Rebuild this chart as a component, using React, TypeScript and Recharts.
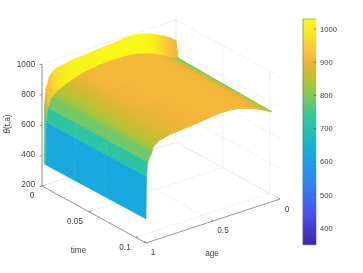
import { ScatterChart, Scatter, XAxis, YAxis, ReferenceDot } from 'recharts';

const WIDTH = 363;
const HEIGHT = 273;

const ages = [
  0, 0.02, 0.04, 0.06, 0.08, 0.1, 0.13, 0.16, 0.2, 0.25, 0.3, 0.35, 0.4, 0.45, 0.5, 0.55, 0.6, 0.65,
  0.7, 0.75, 0.8, 0.84, 0.87, 0.9, 0.92, 0.94, 0.96, 0.985, 0.995, 1,
];
const times = [0, 0.002, 0.03, 0.06, 0.1];

// theta(t, a), one list per time, same order as ages
const thetaT0 = [
  862, 878, 892, 902, 914, 924, 938, 950, 965, 980, 990, 993, 991, 986, 981, 978, 975, 972, 968, 965,
  961, 955, 949, 944, 937, 922, 902, 836, 740, 345,
];
const thetaT1 = [
  757, 762, 769, 777, 787, 799, 810, 826, 841, 856, 869, 878, 882, 884, 885, 883, 881, 875, 868, 856,
  843, 830, 818, 806, 797, 783, 764, 715, 620, 345,
];
const thetaT2 = [
  757, 764, 771, 779, 789, 801, 812, 827, 841, 855, 867, 874, 878, 879, 878, 875, 872, 867, 861, 853,
  844, 833, 823, 811, 803, 790, 763, 715, 620, 345,
];
const thetaT3 = [
  757, 766, 774, 783, 792, 803, 814, 828, 840, 855, 865, 871, 874, 873, 870, 866, 862, 858, 855, 850,
  845, 836, 829, 819, 810, 798, 762, 714, 620, 345,
];
const thetaT4 = [
  757, 768, 777, 786, 795, 805, 816, 828, 840, 854, 863, 868, 870, 868, 865, 861, 857, 854, 851, 848,
  845, 840, 834, 827, 816, 805, 760, 712, 620, 345,
];
const thetaByTime = [thetaT0, thetaT1, thetaT2, thetaT3, thetaT4];

const zTicks = [200, 400, 600, 800, 1000];
const timeTicks = [0, 0.05, 0.1];
const ageTicks = [0, 0.5, 1];
const colorbarTicks = [400, 500, 600, 700, 800, 900, 1000];

const parulaPos = [0, 0.1429, 0.2857, 0.4286, 0.5714, 0.7143, 0.77, 0.82, 0.8571, 0.93, 1];
const parulaHex = [
  '#3E26A8', '#4852F4', '#2D87F7', '#12B1D6', '#37C897', '#ABC739', '#D0BA30', '#F2B43A', '#FEC338', '#F5E326', '#F9FB14',
];
const colorMin = 350;
const colorMax = 1030;

// heights in the picture read lower than the colours say above 700,
// and the young side turns orange much sooner than the old side
const heightKeys = [345, 700, 757, 800, 860, 885, 905, 965, 1000];
const oldColorKeys = [345, 700, 780, 840, 908, 915, 930, 1015, 1030];
const youngHeightKeys = [345, 700, 757, 770, 790, 820, 885, 905, 965, 1000];
const youngColorKeys = [345, 700, 790, 860, 895, 908, 915, 930, 1015, 1030];
const YOUNG_BELOW_AGE = 0.5;

// above this age the reference has flat bands, below it the colour runs smoothly
const FLAT_FROM_AGE = 0.96;

const lerpTable = (keys: number[], vals: number[], v: number) => {
  if (v <= keys[0]) return vals[0];
  for (let i = 1; i < keys.length; i++) {
    if (v <= keys[i]) return vals[i - 1] + ((vals[i] - vals[i - 1]) * (v - keys[i - 1])) / (keys[i] - keys[i - 1]);
  }
  return vals[vals.length - 1];
};

const parula = (value: number) => {
  const pos = Math.min(1, Math.max(0, (value - colorMin) / (colorMax - colorMin)));
  let i = 1;
  while (i < parulaPos.length - 1 && pos > parulaPos[i]) i++;
  const f = (pos - parulaPos[i - 1]) / (parulaPos[i] - parulaPos[i - 1]);
  const chan = (hex: string, at: number) => parseInt(hex.slice(at, at + 2), 16);
  const mix = (at: number) => Math.round(chan(parulaHex[i - 1], at) * (1 - f) + chan(parulaHex[i], at) * f);
  return `rgb(${mix(1)},${mix(3)},${mix(5)})`;
};
const shade = (z: number, a: number) =>
  parula(a < YOUNG_BELOW_AGE ? lerpTable(youngHeightKeys, youngColorKeys, z) : lerpTable(heightKeys, oldColorKeys, z));

// view of the 3d box: floor corners as [a=1, a=0] for t=0 and the far t
const Z_SCALE = 0.1525;
const boxT0 = [[42, 186], [176, 142]];
const boxT1 = [[146, 243], [280, 199]];
const surfT0 = [[44, 186], [176, 142]];
const surfT1 = [[146, 241], [272, 197]];
const T_MAX_BOX = 0.111;
const T_MAX_SURF = 0.1;

const project = (c0: number[][], c1: number[][], tf: number, a: number, z: number) => {
  const mix = (k: number) => {
    const p0 = c0[0][k] * a + c0[1][k] * (1 - a);
    const p1 = c1[0][k] * a + c1[1][k] * (1 - a);
    return p0 * (1 - tf) + p1 * tf;
  };
  return { x: mix(0), y: mix(1) - (z - 200) * Z_SCALE };
};
const boxPt = (t: number, a: number, z: number) => project(boxT0, boxT1, t / T_MAX_BOX, a, z);
const surfPt = (t: number, a: number, z: number) => project(surfT0, surfT1, t / T_MAX_SURF, a, z);

const noDot = () => <g />;

const Polygon = ({ points, paint, edge = 0.5 }: any) => (
  <polygon points={points.map((p: any) => `${p.x},${p.y}`).join(' ')} fill={paint} stroke={paint} strokeWidth={edge} />
);

// cell whose colour runs from its first age edge to its second
const SmoothCell = ({ points, id, from, to }: any) => {
  const [p0, p1, p2] = points;
  // gradient runs square to the time edge p1-p2
  const ex = p2.x - p1.x;
  const ey = p2.y - p1.y;
  const k = ((p0.x - p1.x) * ex + (p0.y - p1.y) * ey) / (ex * ex + ey * ey || 1);
  const fx = p1.x + ex * k;
  const fy = p1.y + ey * k;
  return (
    <g>
      <defs>
        <linearGradient id={id} gradientUnits="userSpaceOnUse" x1={p0.x} y1={p0.y} x2={fx} y2={fy}>
          <stop offset="0" stopColor={from} />
          <stop offset="1" stopColor={to} />
        </linearGradient>
      </defs>
      {/* thick edge so the thin strips leave no light seams at 1x */}
      <Polygon points={points} paint={`url(#${id})`} edge={1.1} />
    </g>
  );
};

const seg = (key: string, from: any, to: any, stroke: string, width = 0.7) => (
  <Scatter
    key={key}
    data={[from, to]}
    shape={noDot}
    line={{ stroke, strokeWidth: width }}
    isAnimationActive={false}
  />
);

const label = (key: string, x: number, y: number, text: any, anchor = 'middle', size = 8.2, rotate = 0) => (
  <ReferenceDot
    key={key}
    x={x}
    y={y}
    r={0}
    ifOverflow="visible"
    shape={(p: any) => (
      <text
        x={p.cx}
        y={p.cy}
        textAnchor={anchor}
        dominantBaseline="central"
        fontSize={size}
        fontFamily="Liberation Sans"
        fill="#404040"
        transform={rotate ? `rotate(${rotate} ${p.cx} ${p.cy})` : undefined}
      >
        {text}
      </text>
    )}
  />
);

const GRID = '#E9E9E9';
const AXIS = '#6A6A6A';

const gridLines = [
  ...timeTicks.map((t) => seg(`ft${t}`, boxPt(t, 0, 200), boxPt(t, 1, 200), GRID)),
  ...ageTicks.map((a) => seg(`fa${a}`, boxPt(0, a, 200), boxPt(T_MAX_BOX, a, 200), GRID)),
  ...zTicks.map((z) => seg(`wa${z}`, boxPt(0, 0, z), boxPt(T_MAX_BOX, 0, z), GRID)),
  ...zTicks.map((z) => seg(`wt${z}`, boxPt(0, 0, z), boxPt(0, 1, z), GRID)),
  ...timeTicks.map((t) => seg(`vt${t}`, boxPt(t, 0, 200), boxPt(t, 0, 1000), GRID)),
  ...ageTicks.map((a) => seg(`va${a}`, boxPt(0, a, 200), boxPt(0, a, 1000), GRID)),
];

// back to front: earliest time and smallest age first
const facets = times.slice(0, -1).flatMap((t, j) =>
  ages.slice(0, -1).map((a, i) => {
    const next = times[j + 1];
    const nextA = ages[i + 1];
    const from = shade(thetaByTime[j][i], a);
    const to = shade(thetaByTime[j][i + 1], nextA);
    return (
      <Scatter
        key={`f${j}-${i}`}
        data={[
          surfPt(t, a, thetaByTime[j][i]),
          surfPt(t, nextA, thetaByTime[j][i + 1]),
          surfPt(next, nextA, thetaByTime[j + 1][i + 1]),
          surfPt(next, a, thetaByTime[j + 1][i]),
        ]}
        shape={noDot}
        line={a < FLAT_FROM_AGE ? <SmoothCell id={`cell${j}-${i}`} from={from} to={to} /> : <Polygon paint={from} />}
        isAnimationActive={false}
      />
    );
  }),
);

const axisLines = [
  seg('zAxis', boxPt(0, 1, 200), boxPt(0, 1, 1000), AXIS),
  seg('tAxis', boxPt(0, 1, 200), boxPt(T_MAX_BOX, 1, 200), AXIS),
  seg('aAxis', boxPt(T_MAX_BOX, 1, 200), boxPt(T_MAX_BOX, 0, 200), AXIS),
  ...zTicks.map((z) => {
    const p = boxPt(0, 1, z);
    return seg(`zt${z}`, p, { x: p.x - 2.5, y: p.y + 0.8 }, AXIS);
  }),
  ...timeTicks.map((t) => {
    const p = boxPt(t, 1, 200);
    return seg(`tt${t}`, p, { x: p.x + 2.5, y: p.y - 0.8 }, AXIS);
  }),
  ...ageTicks.map((a) => {
    const p = boxPt(T_MAX_BOX, a, 200);
    return seg(`at${a}`, p, { x: p.x - 1.5, y: p.y - 1.5 }, AXIS);
  }),
];

const BAR_LEFT = 303;
const BAR_RIGHT = 316;
const barY = (v: number) => 29 + ((1000 - v) * 33.2) / 100;
const barTop = barY(colorMax);
const barBottom = barY(colorMin);

const colorbar = [
  <Scatter
    key="bar"
    data={[
      { x: BAR_LEFT, y: barTop },
      { x: BAR_RIGHT, y: barTop },
      { x: BAR_RIGHT, y: barBottom },
      { x: BAR_LEFT, y: barBottom },
    ]}
    shape={noDot}
    line={<Polygon paint="url(#parula)" />}
    isAnimationActive={false}
  />,
  seg('barL', { x: BAR_LEFT, y: barTop }, { x: BAR_LEFT, y: barBottom }, '#707070', 0.6),
  seg('barT', { x: BAR_LEFT, y: barTop }, { x: BAR_RIGHT, y: barTop }, '#808080', 0.6),
  ...colorbarTicks.map((v) => seg(`ct${v}`, { x: BAR_RIGHT - 2.5, y: barY(v) }, { x: BAR_RIGHT, y: barY(v) }, '#505050', 0.6)),
];

const texts = [
  ...zTicks.map((z, i) => label(`zl${z}`, 35, [184, 154, 124, 94, 64][i], String(z), 'end')),
  label('t0', 32, 195, '0'),
  label('t05', 75, 221, '0.05'),
  label('t1', 125, 247, '0.1'),
  label('a1', 153, 252, '1'),
  label('a5', 223, 230, '0.5'),
  label('a0', 287, 209, '0'),
  label('time', 78.5, 250, 'time'),
  label('age', 212, 253, 'age'),
  label('theta', 7, 124, <><tspan fontStyle="italic">θ</tspan>(t,a)</>, 'middle', 8.2, -90),
  ...colorbarTicks.map((v) => label(`cl${v}`, 320, barY(v), String(v), 'start', 7.6)),
];

export default function App() {
  return (
    <div style={{ position: 'absolute', left: 0, top: 0, width: WIDTH, height: HEIGHT, filter: 'blur(0.3px)' }}>
      <ScatterChart width={WIDTH} height={HEIGHT} margin={{ top: 0, right: 0, bottom: 0, left: 0 }}>
        <defs>
          <linearGradient id="parula" x1="0" y1="1" x2="0" y2="0">
            {parulaPos.map((p, i) => (
              <stop key={p} offset={p} stopColor={parulaHex[i]} />
            ))}
          </linearGradient>
        </defs>
        <XAxis type="number" dataKey="x" domain={[0, WIDTH]} hide />
        <YAxis type="number" dataKey="y" domain={[0, HEIGHT]} reversed hide />
        {gridLines}
        {facets}
        {axisLines}
        {colorbar}
        {texts}
      </ScatterChart>
    </div>
  );
}
